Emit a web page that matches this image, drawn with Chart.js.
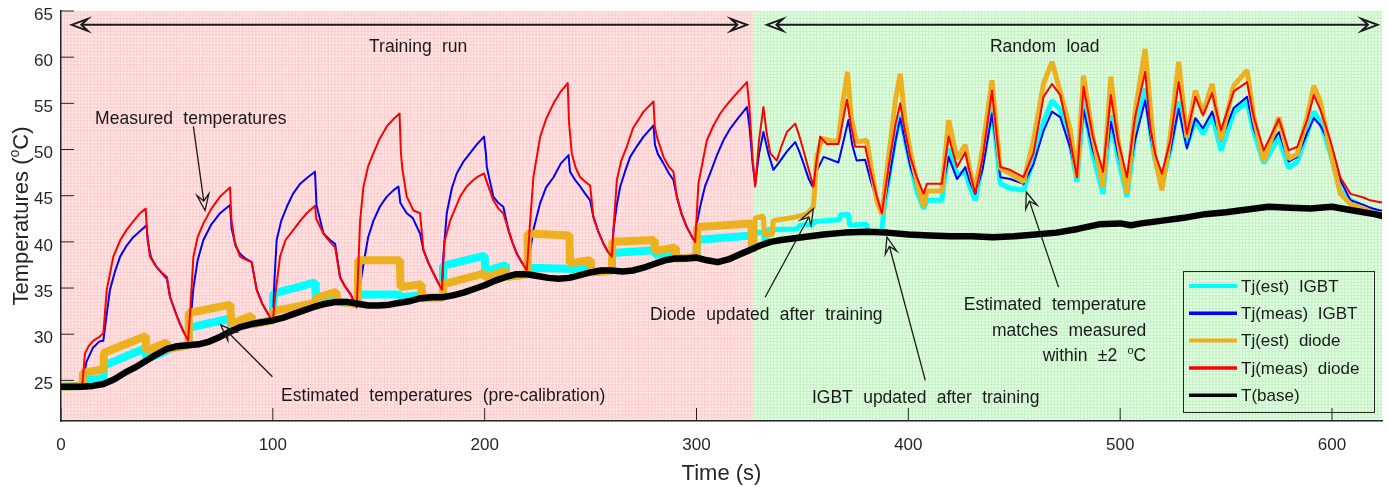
<!DOCTYPE html>
<html>
<head>
<meta charset="utf-8">
<title>Junction temperature estimation</title>
<script src="https://cdn.jsdelivr.net/npm/chart.js@4.4.1/dist/chart.umd.min.js"></script>
<style>
  html, body { margin: 0; padding: 0; background: #fff; }
  #wrap { position: relative; width: 1388px; height: 487px; }
</style>
</head>
<body>
<div id="wrap"><canvas id="chart" width="1388" height="487"></canvas></div>
<script>
// ---- data: [time (s), temperature (degC)] ----
const tjEstIgbt = [
  [0, 24.3], [10, 24.4], [10.3, 25.0], [20, 25.2], [20.3, 26.6], [40, 28.5], [40.3, 27.3], [50, 28.2],
  [50.3, 28.4], [60, 28.8], [60.3, 30.7], [80, 31.7], [80.3, 30.6], [90, 31.3], [90.3, 31.1], [100, 31.5],
  [100.3, 34.4], [120, 35.6], [120.3, 33.6], [130, 34.2], [130.3, 33.5], [140, 33.3], [140.3, 34.3], [160, 34.3],
  [160.3, 34.0], [170, 34.2], [170.3, 33.9], [180, 34.0], [180.3, 37.4], [200, 38.5], [200.3, 36.8], [210, 37.5],
  [210.3, 36.2], [220, 36.5], [220.3, 37.2], [240, 37.1], [240.3, 37.0], [250, 37.4], [250.3, 36.7], [260, 36.9],
  [260.3, 38.8], [280, 39.1], [280.3, 38.6], [290, 38.9], [290.3, 38.2], [300, 38.3], [300.3, 40.2], [326, 40.7],
  [326.3, 39.2], [327.4, 39.4], [327.7, 41.0], [331.6, 41.0], [332, 40.0], [333.2, 40.1], [333.5, 41.3], [347.4, 41.4],
  [349, 41.8], [355, 41.9], [355.5, 42.2], [367.5, 42.4], [367.8, 42.9], [371.7, 43.0], [372.3, 41.8], [380.4, 41.9],
  [381, 41.1], [387.5, 41.2], [388.3, 43.3], [391.4, 48.0], [394, 51.5], [396.2, 53.7], [398.5, 51.0], [400.9, 48.5],
  [404, 45.5], [407.2, 43.6], [408.8, 44.5], [415.8, 44.5], [419, 50.1], [423, 47.2], [426.9, 47.6], [429, 46.0],
  [431.6, 44.5], [435, 48.5], [439.5, 54.6], [441.5, 50.5], [443.4, 46.3], [448, 45.8], [454.4, 45.6], [459.1, 49.0],
  [463.8, 53.0], [467.8, 55.3], [471.7, 54.3], [476.4, 50.6], [479.6, 46.5], [482.7, 55.0], [487, 49.5], [491.9, 45.2],
  [495.6, 53.7], [499, 49.0], [503.2, 44.9], [507, 51.5], [511.8, 56.6], [514.2, 52.0], [516.5, 48.8], [519.7, 46.2],
  [523.7, 50.0], [527.6, 55.2], [531.5, 50.5], [535.5, 53.2], [539.1, 51.7], [543.4, 53.7], [547.6, 49.9], [553.6, 54.0],
  [559.9, 55.2], [563.1, 51.9], [567.8, 48.5], [574.9, 51.3], [579.6, 48.0], [583.6, 48.7], [588.3, 51.8], [591.4, 54.1],
  [594.5, 53.0], [599.2, 49.6], [603.9, 45.6], [608.7, 44.5], [614.9, 43.8], [620, 43.2], [624, 42.9],
];

const tjMeasIgbt = [
  [0, 24.5], [5, 24.3], [10, 24.3], [12, 27.0], [15, 28.5], [18, 29.2], [20, 29.3], [21.5, 32.0], [23.1, 34.8],
  [25.5, 36.8], [27.9, 38.4], [31, 39.6], [34.1, 40.5], [37.5, 41.2], [40.4, 41.8], [41, 40.0], [42.5, 38.3],
  [45, 37.3], [48, 36.5], [50, 36.0], [51.5, 34.0], [54, 32.4], [56.2, 31.1], [58, 30.2], [60, 29.4], [61.2, 31.5],
  [62.5, 35.0], [64.5, 38.0], [67.2, 40.2], [71, 41.9], [75.1, 43.1], [79.8, 44.0], [80.5, 41.5], [82.5, 39.5],
  [84.5, 38.7], [87, 38.2], [90, 37.8], [92.4, 34.8], [95, 33.3], [97.5, 32.3], [100, 31.4], [100.8, 36.0],
  [101.8, 40.2], [104, 42.3], [106.6, 43.8], [109.5, 45.2], [112.9, 46.3], [116.5, 47.0], [119.9, 47.6],
  [120.6, 44.0], [123.9, 40.9], [127, 40.2], [129.4, 39.8], [131.7, 36.2], [134, 35.2], [136.5, 34.4], [139.6, 33.0],
  [141, 35.0], [142.8, 37.6], [145, 40.5], [147.5, 42.3], [150.5, 43.8], [153.8, 44.9], [157, 45.6], [159.3, 46.0],
  [160.2, 44.2], [163.2, 43.1], [166, 42.6], [169.5, 40.9], [171.1, 39.1], [173.5, 37.7], [175.8, 36.6], [178, 35.6],
  [179.8, 34.9], [180.5, 38.5], [182.1, 43.1], [184.5, 45.8], [186.8, 47.4], [190, 48.7], [193.1, 49.6], [196.5, 50.6],
  [199.7, 51.4], [200.6, 49.5], [201, 48.1], [204.1, 44.9], [206.5, 44.2], [208.8, 43.8], [211.2, 41.3], [213, 40.0],
  [215.2, 38.7], [217.5, 37.8], [219.9, 37.0], [221.5, 39.0], [223, 41.3], [226.2, 44.2], [229, 45.9], [232.5, 47.0],
  [236, 48.5], [239.6, 49.4], [240.3, 47.6], [243, 46.6], [245.1, 46.0], [247.5, 45.2], [249.8, 44.5], [251.3, 42.7],
  [253.5, 41.2], [256.1, 39.8], [258, 39.0], [260, 38.4], [260.8, 41.3], [262.4, 44.0], [264, 46.0], [266.5, 47.8],
  [268.7, 49.2], [272, 50.4], [275, 51.4], [279.7, 52.6], [280.4, 50.5], [281.8, 49.5], [284.4, 48.5], [287, 47.4],
  [289.1, 46.7], [290.7, 44.9], [293, 43.0], [295.4, 41.6], [297.5, 40.7], [299.4, 40.0], [300.2, 42.0], [301.7, 43.8],
  [304, 46.0], [306.4, 47.4], [309.5, 49.3], [312.7, 51.0], [316, 52.3], [319, 53.2], [323.8, 54.6], [325, 52.5],
  [326.5, 48.5], [327.7, 46.2], [329.5, 49.5], [331.6, 51.9], [334, 49.5], [336.3, 47.8], [339, 48.6], [342.7, 49.8],
  [346.6, 50.8], [348.5, 49.8], [350.5, 48.5], [353, 46.8], [355.2, 45.8], [357, 47.8], [360, 49.2], [367, 48.6],
  [369.5, 51.0], [371.7, 53.2], [373.5, 50.5], [375.6, 48.8], [379.6, 48.9], [382, 46.8], [385, 44.5], [387.5, 43.2],
  [389, 44.5], [391.4, 47.5], [394, 51.0], [396.2, 53.4], [398.5, 50.8], [400.9, 48.2], [404, 46.0], [407.2, 44.5],
  [408.8, 45.4], [415.8, 45.4], [419, 49.2], [423, 46.8], [426.9, 48.1], [429, 46.5], [431.6, 45.2], [435, 47.8],
  [439.5, 53.9], [441.5, 50.5], [443.4, 47.0], [448, 46.8], [454.4, 46.3], [459.1, 48.4], [463.8, 52.0], [467.8, 54.1],
  [471.7, 53.5], [476.4, 50.2], [479.6, 47.0], [482.7, 54.3], [487, 50.0], [491.9, 46.5], [495.6, 53.0], [499, 49.5],
  [503.2, 45.9], [507, 51.0], [511.8, 55.3], [514.2, 51.7], [516.5, 48.8], [519.7, 46.7], [523.7, 49.9], [527.6, 54.4],
  [531.5, 50.1], [535.5, 53.4], [539.1, 52.3], [543.4, 54.1], [547.6, 51.0], [553.6, 54.5], [559.9, 55.7], [563.1, 52.2],
  [567.8, 49.4], [574.9, 51.9], [579.6, 48.7], [583.6, 49.2], [588.3, 51.8], [591.4, 53.4], [594.5, 52.6], [599.2, 50.5],
  [603.9, 46.7], [608.7, 44.5], [614.9, 44.0], [618, 43.7], [622.8, 43.4], [624, 43.4],
];

const tjEstDiode = [
  [0, 24.3], [10, 24.4], [10.3, 25.8], [20, 26.2], [20.3, 28.0], [40, 29.8], [40.3, 28.2], [50, 29.1],
  [50.3, 28.4], [60, 28.8], [60.3, 32.3], [80, 33.2], [80.3, 31.1], [90, 32.0], [90.3, 31.1], [100, 31.5],
  [100.3, 32.5], [120, 33.4], [120.3, 33.9], [130, 34.6], [130.3, 33.5], [140, 33.3], [140.3, 38.0], [160, 38.0],
  [160.3, 35.1], [170, 35.4], [170.3, 33.9], [180, 34.0], [180.3, 35.4], [200, 36.6], [200.3, 36.1], [210, 36.9],
  [210.3, 36.2], [220, 36.5], [220.3, 40.9], [240, 40.7], [240.3, 37.7], [250, 38.0], [250.3, 36.7], [260, 36.9],
  [260.3, 40.0], [280, 40.2], [280.3, 39.0], [290, 39.4], [290.3, 38.2], [300, 38.3], [300.3, 41.6], [326, 42.0],
  [326.3, 39.2], [327.4, 39.4], [327.7, 42.6], [331.6, 42.8], [332, 40.8], [335.8, 40.8], [336.2, 42.3], [345, 42.6],
  [352, 43.0], [355.2, 43.8], [356.8, 49.2], [359.2, 51.2], [364, 50.9], [367, 51.0], [369, 55.0], [371.3, 58.4],
  [373, 53.5], [375.6, 50.8], [380.4, 51.0], [382.5, 48.0], [385.1, 44.5], [387.5, 43.0], [389.5, 47.0], [391.4, 50.5],
  [394, 55.5], [396.2, 58.2], [398.5, 53.0], [400.9, 49.8], [404, 46.5], [407.2, 43.8], [408.8, 45.5], [415.8, 45.5],
  [419, 53.2], [423, 49.0], [426.9, 50.5], [429, 47.8], [431.6, 45.6], [435, 50.0], [439.5, 57.5], [441.5, 52.5],
  [443.4, 48.0], [448, 47.4], [454.4, 46.5], [459.1, 51.0], [463.8, 57.1], [467.8, 59.5], [471.7, 56.3], [476.4, 52.2],
  [479.6, 47.0], [482.7, 58.0], [487, 51.5], [491.9, 45.9], [495.6, 57.9], [499, 51.0], [503.2, 45.2], [507, 54.0],
  [511.8, 60.9], [514.2, 54.6], [516.5, 49.0], [519.7, 45.6], [523.7, 51.5], [527.6, 59.5], [531.5, 51.3], [535.5, 56.4],
  [539.1, 53.9], [543.4, 57.1], [547.6, 51.0], [553.6, 56.9], [559.9, 58.6], [563.1, 53.5], [567.8, 48.7], [574.9, 53.5],
  [579.6, 49.0], [583.6, 49.5], [588.3, 53.5], [591.4, 56.9], [594.5, 55.2], [599.2, 49.9], [603.9, 45.2], [608.7, 44.1],
  [614.9, 43.6], [620, 43.1], [624, 42.9],
];

const tjMeasDiode = [
  [0, 24.4], [4, 24.2], [8, 24.5], [10, 24.4], [11.3, 27.9], [13, 28.7], [15.3, 29.3], [18, 29.7], [20, 30.1],
  [21.6, 34.8], [24.7, 38.4], [28, 40.2], [31, 41.3], [34, 42.2], [37.3, 43.1], [40, 43.6], [40.6, 41.0], [42, 38.4],
  [44.4, 37.5], [47, 36.8], [50, 36.2], [51.5, 34.0], [54, 32.4], [56.2, 31.1], [58, 30.2], [60, 29.3], [61, 32.5],
  [62.5, 38.4], [64.5, 40.5], [67.2, 42.0], [71, 43.6], [75.1, 44.9], [79.8, 45.9], [80.4, 42.5], [82, 40.0],
  [84.5, 38.4], [87, 38.1], [90, 37.8], [92.4, 34.8], [95, 33.3], [97.5, 32.3], [100, 31.3], [101, 34.0],
  [103.4, 38.4], [106, 40.2], [109.7, 41.3], [113, 42.3], [116, 43.1], [119.9, 43.9], [120.5, 42.5], [123.9, 40.9],
  [127, 40.0], [129.4, 39.4], [131.7, 36.2], [134, 35.2], [136.5, 34.4], [139.6, 32.9], [141.2, 42.3], [142.8, 46.0],
  [145, 48.2], [147.5, 49.6], [150.5, 51.2], [153.8, 52.5], [157, 53.3], [159.8, 53.9], [160.5, 49.5], [161.2, 47.8],
  [163.2, 44.9], [166.4, 43.4], [169.5, 43.1], [171.1, 39.1], [173.5, 37.7], [175.8, 36.6], [178, 35.6], [179.8, 34.8],
  [181, 40.0], [183.7, 42.3], [188.4, 44.9], [191.5, 46.0], [194.7, 46.7], [197, 47.1], [199.7, 47.4], [201, 46.5],
  [204.1, 44.5], [206.5, 43.6], [208.8, 43.1], [211.2, 41.3], [213, 40.0], [215.2, 38.7], [217.5, 37.8], [219.9, 36.9],
  [221.5, 42.3], [223, 47.0], [226.2, 51.4], [229, 53.3], [232.5, 55.0], [236, 56.3], [239.2, 57.2], [239.8, 53.0],
  [241.1, 49.6], [243, 48.0], [245.1, 47.0], [247.5, 46.5], [249.8, 46.1], [251.3, 42.7], [253.5, 41.2], [256.1, 39.8],
  [258, 39.0], [260, 38.4], [261, 42.0], [262.4, 46.7], [264.5, 48.8], [267.1, 50.3], [270, 52.3], [275, 54.1],
  [279.7, 55.2], [280.3, 52.5], [281.3, 51.4], [284.4, 49.2], [287, 48.1], [289.1, 47.6], [290.7, 44.9], [293, 43.0],
  [295.4, 41.6], [297.5, 40.7], [299.4, 40.0], [300.9, 46.3], [304.9, 51.0], [308, 52.6], [311.2, 53.9], [314.5, 54.9],
  [317.5, 55.7], [321, 56.6], [323.8, 57.3], [325, 54.5], [326.5, 49.0], [327.7, 46.0], [329.5, 51.0], [331.6, 54.6],
  [333, 52.0], [334.8, 49.6], [337.9, 48.8], [340, 50.3], [342.7, 51.9], [346.6, 52.8], [348.5, 51.5], [350.5, 49.9],
  [353, 47.8], [355.2, 46.0], [356.5, 48.5], [358.4, 51.4], [361.5, 50.6], [367, 50.6], [369, 53.0], [371, 55.4],
  [373, 52.5], [374.9, 50.3], [379.6, 50.3], [382, 47.8], [385.1, 44.9], [387.5, 43.1], [389, 45.5], [391.4, 49.2],
  [394, 52.8], [396.2, 55.0], [398, 52.5], [400.9, 49.2], [404, 47.0], [407.2, 45.2], [408.8, 46.3], [415.8, 46.3],
  [419, 51.4], [423, 48.1], [426.9, 49.7], [429, 47.5], [431.6, 45.2], [435, 49.0], [439.5, 56.4], [441.5, 52.0],
  [443.4, 48.1], [448, 47.8], [454.4, 47.0], [459.1, 49.6], [463.8, 55.7], [467.8, 57.1], [471.7, 55.9], [476.4, 51.0],
  [479.6, 47.0], [482.7, 56.8], [487, 51.5], [491.9, 47.6], [495.6, 55.9], [499, 51.0], [503.2, 47.0], [507, 53.5],
  [511.8, 58.4], [514.2, 52.4], [516.5, 49.5], [519.7, 47.4], [523.7, 51.0], [527.6, 57.3], [531.5, 51.7], [535.5, 55.7],
  [539.1, 53.7], [543.4, 56.1], [547.6, 52.1], [553.6, 56.3], [559.9, 57.3], [563.1, 53.5], [567.8, 49.9], [574.9, 53.3],
  [579.6, 49.9], [583.6, 50.3], [588.3, 53.2], [591.4, 55.9], [594.5, 54.3], [599.2, 51.0], [603.9, 47.0], [608.7, 45.2],
  [614.9, 44.8], [618, 44.5], [622.8, 44.3], [624, 44.3],
];

const tBase = [
  [0, 24.3], [10, 24.3], [15, 24.4], [20, 24.6], [25, 25.1], [30, 25.8], [35, 26.4], [40, 27.1], [45, 27.8],
  [50, 28.4], [55, 28.7], [60, 28.8], [65, 28.9], [70, 29.2], [75, 29.7], [80, 30.3], [85, 30.8], [90, 31.1],
  [95, 31.3], [100, 31.5], [105, 31.8], [110, 32.2], [115, 32.6], [120, 33.0], [125, 33.3], [130, 33.5], [135, 33.5],
  [140, 33.3], [145, 33.1], [150, 33.1], [155, 33.2], [160, 33.4], [165, 33.6], [170, 33.9], [175, 34.0], [180, 34.0],
  [185, 34.2], [190, 34.5], [195, 34.9], [200, 35.3], [205, 35.8], [210, 36.2], [215, 36.5], [220, 36.5], [225, 36.3],
  [230, 36.1], [235, 36.0], [240, 36.1], [245, 36.4], [250, 36.7], [255, 36.9], [260, 36.9], [265, 36.8], [270, 36.9],
  [275, 37.2], [280, 37.6], [285, 38.0], [290, 38.2], [295, 38.2], [300, 38.3], [305, 38.0], [310, 37.8], [315, 38.1],
  [320, 38.6], [325, 39.1], [330, 39.6], [335, 40.0], [340, 40.2], [350, 40.5], [360, 40.8], [370, 41.0], [380, 41.1],
  [390, 41.0], [400, 40.8], [410, 40.7], [420, 40.6], [430, 40.6], [440, 40.5], [450, 40.6], [460, 40.8], [470, 41.0],
  [480, 41.4], [490, 41.9], [500, 42.0], [505, 41.8], [510, 42.0], [520, 42.3], [530, 42.6], [540, 43.0], [550, 43.2],
  [560, 43.5], [570, 43.8], [580, 43.7], [590, 43.6], [600, 43.8], [610, 43.4], [620, 43.0], [624, 42.8],
];

const seriesLabels = ["Tj(est) IGBT", "Tj(meas) IGBT", "Tj(est) diode", "Tj(meas) diode", "T(base)"];
const seriesColors = ["#00ffff", "#0000ff", "#edb120", "#ff0000", "#000000"];
const xTicks = [0, 100, 200, 300, 400, 500, 600];
const yTicks = [25, 30, 35, 40, 45, 50, 55, 60, 65];
const xRange = [0, 623.6];
const yRange = [20.6, 65];
const trainingEnd = 326.9;

const FONT = "'Liberation Sans', Arial, Helvetica, sans-serif";
const INK = "#1a1a1a";

const est = (ctx) => (ctx.p0.parsed.x < trainingEnd ? 8 : 5);

function arrowHead(ctx, x0, y0, x1, y1) {
  const len = 16, half = 6;
  const a = Math.atan2(y1 - y0, x1 - x0);
  const c = Math.cos(a), s = Math.sin(a);
  const bx = x1 - len * c, by = y1 - len * s;
  const nx = x1 - len * 0.6 * c, ny = y1 - len * 0.6 * s;
  ctx.beginPath();
  ctx.moveTo(x1, y1);
  ctx.lineTo(bx - half * s, by + half * c);
  ctx.lineTo(nx, ny);
  ctx.lineTo(bx + half * s, by - half * c);
  ctx.closePath();
  ctx.stroke();
  return [nx, ny];
}

function arrow(ctx, x0, y0, x1, y1, both) {
  let sx = x0, sy = y0;
  if (both) [sx, sy] = arrowHead(ctx, x1, y1, x0, y0);
  const [ex, ey] = arrowHead(ctx, x0, y0, x1, y1);
  ctx.beginPath();
  ctx.moveTo(sx, sy);
  ctx.lineTo(ex, ey);
  ctx.stroke();
}

// text with a raised small "o" (degree) part; parts = [[text, isSup], ...]
function richText(ctx, parts, x, y, align, size) {
  const widths = parts.map(([t, sup]) => {
    ctx.font = `${sup ? Math.round(size * 0.62) : size}px ${FONT}`;
    return ctx.measureText(t).width;
  });
  const total = widths.reduce((a, b) => a + b, 0);
  let cx = align === "right" ? x - total : align === "center" ? x - total / 2 : x;
  ctx.textAlign = "left";
  parts.forEach(([t, sup], i) => {
    ctx.font = `${sup ? Math.round(size * 0.62) : size}px ${FONT}`;
    ctx.fillText(t, cx, sup ? y - size * 0.42 : y);
    cx += widths[i];
  });
}

const backdrop = {
  id: "backdrop",
  beforeDraw(chart) {
    const { ctx, chartArea: a, scales } = chart;
    const split = scales.x.getPixelForValue(trainingEnd);
    const zones = [
      [a.left, split, "#ffe6e6", "#ffcdcd"],
      [split, a.right, "#e2ffe2", "#c6f0c6"],
    ];
    const step = 3.3;
    ctx.save();
    zones.forEach(([l, r, fill, mesh]) => {
      ctx.fillStyle = fill;
      ctx.fillRect(l, a.top, r - l, a.bottom - a.top);
      ctx.strokeStyle = mesh;
      ctx.lineWidth = 1;
      ctx.beginPath();
      for (let x = a.left; x <= r; x += step) {
        if (x < l) continue;
        ctx.moveTo(x, a.top);
        ctx.lineTo(x, a.bottom);
      }
      for (let y = a.bottom; y >= a.top; y -= step) {
        ctx.moveTo(l, y);
        ctx.lineTo(r, y);
      }
      ctx.stroke();
    });
    ctx.restore();
  },
};

const decorations = {
  id: "decorations",
  afterDatasetsDraw(chart) {
    const { ctx, chartArea: a, scales } = chart;
    const X = (t) => scales.x.getPixelForValue(t);
    const Y = (v) => scales.y.getPixelForValue(v);
    ctx.save();

    // inward tick marks
    ctx.strokeStyle = "#262626";
    ctx.lineWidth = 1;
    ctx.beginPath();
    yTicks.forEach((v) => { ctx.moveTo(a.left, Y(v)); ctx.lineTo(a.left + 13, Y(v)); });
    xTicks.forEach((t) => { ctx.moveTo(X(t), a.bottom); ctx.lineTo(X(t), a.bottom - 13); });
    ctx.stroke();

    // phase arrows
    ctx.strokeStyle = "#1a1a1a";
    ctx.lineWidth = 2;
    arrow(ctx, X(5.05), Y(63.5), X(323.8), Y(63.5), true);
    arrow(ctx, X(333.2), Y(63.5), X(621.5), Y(63.5), true);

    // callout arrows
    ctx.lineWidth = 1.3;
    arrow(ctx, X(62.5), Y(52.5), X(68.0), Y(43.4));
    arrow(ctx, X(99.8), Y(25.4), X(75.4), Y(31.0));
    arrow(ctx, X(332.4), Y(34.0), X(355.2), Y(43.6));
    arrow(ctx, X(408), Y(25.0), X(389.9), Y(40.5));
    arrow(ctx, X(470.9), Y(35.1), X(455.7), Y(45.4));

    // annotation texts
    ctx.fillStyle = INK;
    ctx.textBaseline = "alphabetic";
    ctx.font = `17.5px ${FONT}`;
    ctx.wordSpacing = "5.5px";
    ctx.textAlign = "center";
    ctx.fillText("Training run", X(168.6), Y(60.6));
    ctx.fillText("Random load", X(464.4), Y(60.6));
    ctx.textAlign = "left";
    ctx.fillText("Measured temperatures", X(16.1), Y(52.8));
    ctx.fillText("Estimated temperatures (pre-calibration)", X(103.9), Y(22.8));
    ctx.fillText("Diode updated after training", X(278.1), Y(31.5));
    ctx.fillText("IGBT updated after training", X(354.5), Y(22.5));
    ctx.textAlign = "right";
    ctx.fillText("Estimated temperature", X(512.3), Y(32.6));
    ctx.fillText("matches measured", X(512.3), Y(29.8));
    richText(ctx, [["within \u00b12 ", false], ["o", true], ["C", false]], X(512.3), Y(27.1), "right", 17.5);

    // legend box
    const lw = 191, lh = 141;
    const lx = a.right - 8 - lw, ly = a.bottom - 9 - lh;
    ctx.strokeStyle = "#262626";
    ctx.lineWidth = 1;
    ctx.strokeRect(lx + 0.5, ly + 0.5, lw, lh);
    ctx.font = `17px ${FONT}`;
    ctx.wordSpacing = "5px";
    ctx.textAlign = "left";
    ctx.textBaseline = "middle";
    seriesLabels.forEach((label, i) => {
      const cy = ly + 15 + i * 27.3;
      ctx.strokeStyle = seriesColors[i];
      ctx.lineWidth = i === 0 || i === 2 ? 4 : 3.5;
      ctx.beginPath();
      ctx.moveTo(lx + 6, cy);
      ctx.lineTo(lx + 54, cy);
      ctx.stroke();
      ctx.fillStyle = INK;
      ctx.fillText(label, lx + 58, cy + 1);
    });

    // axis titles
    ctx.wordSpacing = "0px";
    ctx.fillStyle = "#262626";
    ctx.textBaseline = "alphabetic";
    ctx.font = `22px ${FONT}`;
    ctx.textAlign = "center";
    ctx.fillText("Time (s)", (a.left + a.right) / 2, 480);
    ctx.translate(28, (a.top + a.bottom) / 2);
    ctx.rotate(-Math.PI / 2);
    richText(ctx, [["Temperatures (", false], ["o", true], ["C)", false]], 0, 0, "center", 22);
    ctx.restore();
  },
};

const line = (data, color, width, order, extra = {}) => ({
  data: data.map(([x, y]) => ({ x, y })),
  borderColor: color,
  borderWidth: width,
  pointRadius: 0,
  tension: 0,
  borderJoinStyle: "round",
  order,
  ...extra,
});

new Chart(document.getElementById("chart"), {
  type: "line",
  data: {
    datasets: [
      line(tjEstIgbt, seriesColors[0], 8, 4, { label: seriesLabels[0], borderJoinStyle: "bevel", segment: { borderWidth: est } }),
      line(tjMeasIgbt, seriesColors[1], 2, 3, { label: seriesLabels[1] }),
      line(tjEstDiode, seriesColors[2], 8, 2, { label: seriesLabels[2], borderJoinStyle: "bevel", segment: { borderWidth: est } }),
      line(tjMeasDiode, seriesColors[3], 2, 1, { label: seriesLabels[3] }),
      line(tBase, seriesColors[4], 6.5, 0, { label: seriesLabels[4] }),
    ],
  },
  options: {
    responsive: false,
    animation: false,
    events: [],
    layout: { padding: { top: 11, right: 6, left: 0, bottom: 0 } },
    plugins: { legend: { display: false }, tooltip: { enabled: false } },
    scales: {
      x: {
        type: "linear",
        min: xRange[0],
        max: xRange[1],
        afterBuildTicks: (s) => { s.ticks = xTicks.map((value) => ({ value })); },
        afterFit: (s) => { s.height = 66; s.paddingLeft = 0; s.paddingRight = 0; },
        grid: { display: false, drawTicks: false },
        border: { display: true, color: "#262626", width: 1.5 },
        ticks: { color: "#262626", font: { family: FONT, size: 17 }, padding: 14, maxRotation: 0 },
      },
      y: {
        type: "linear",
        min: yRange[0],
        max: yRange[1],
        afterBuildTicks: (s) => { s.ticks = yTicks.map((value) => ({ value })); },
        afterFit: (s) => { s.width = 61; s.paddingTop = 0; s.paddingBottom = 0; },
        grid: { display: false, drawTicks: false },
        border: { display: true, color: "#262626", width: 1.5 },
        ticks: { color: "#262626", font: { family: FONT, size: 17 }, padding: 8, labelOffset: 4 },
      },
    },
  },
  plugins: [backdrop, decorations],
});
</script>
</body>
</html>
